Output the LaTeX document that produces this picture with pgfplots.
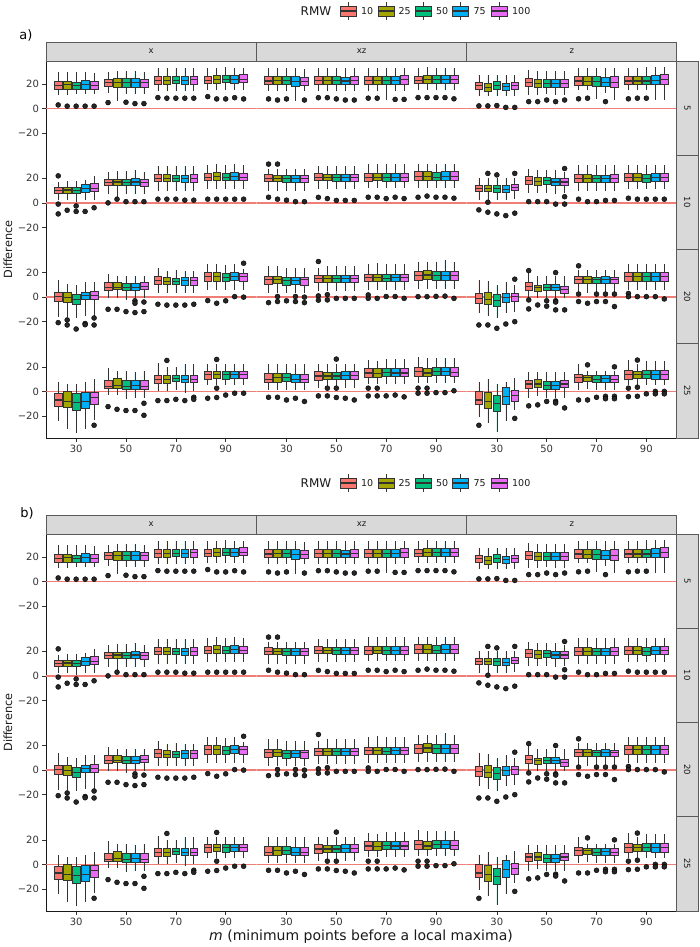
\documentclass[border=0pt]{standalone}
\usepackage{fontspec}
\setmainfont{DejaVu Sans}
\usepackage{pgfplots}
\pgfplotsset{compat=1.18}
\usepgfplotslibrary{statistics}
\definecolor{c1}{HTML}{F8766D}
\definecolor{c2}{HTML}{A3A500}
\definecolor{c3}{HTML}{00BF7D}
\definecolor{c4}{HTML}{00B0F6}
\definecolor{c5}{HTML}{E76BF3}
\definecolor{edge}{HTML}{333333}
\definecolor{zl}{HTML}{F07E76}
\definecolor{stripfill}{HTML}{D9D9D9}
\definecolor{stripedge}{HTML}{5A5A5A}
\pgfplotsset{
  boxst/.style={draw=edge, line width=0.6pt, boxplot/draw direction=y, boxplot/box extend=3.1, boxplot/whisker extend=0,
    boxplot/every median/.style={line width=1.1pt, draw=edge}},
  facet/.style={scale only axis, width=210.33pt, height=94.25pt, xmin=17.9, xmax=102.3, ymin=-38, ymax=38.8,
    axis x line*=bottom, axis y line*=left, axis line style={-, line width=0.6pt},
    x axis line style={draw=none}, y axis line style={draw=none}, xtick=\empty, ytick=\empty,
    tick align=outside, major tick length=3.5pt, tick style={black!80, line width=0.6pt},
    ticklabel style={font=\fontsize{10}{10}\selectfont, text=black!80}, anchor=north west},
  leftcol/.style={ytick={-20,0,20}, yticklabels={−20,0,20}, y axis line style={draw=black!90}},
  botrow/.style={xtick={30,50,70,90}, xticklabels={30,50,70,90}, x axis line style={draw=black!90}},
}
\newcommand{\bx}[7]{\addplot[boxst, fill=#2, boxplot prepared={draw position=#1, lower whisker=#3, lower quartile=#4, median=#5, upper quartile=#6, upper whisker=#7}] coordinates {};}
\newcommand{\grp}[6]{\bx{#1-7.2}{c1}#2\bx{#1-3.6}{c2}#3\bx{#1}{c3}#4\bx{#1+3.6}{c4}#5\bx{#1+7.2}{c5}#6}
\newcommand{\ol}[1]{\addplot[only marks, mark=*, mark size=2.5pt, mark options={draw=none, fill=black!85}] coordinates {#1};}
\newcommand{\zero}{\addplot[draw=zl, line width=1.5pt, mark=none] coordinates {(17.9,0) (102.3,0)};}
% ---------- data: column x / xz / z ; rows 5, 10, 20, 25 ----------
\newcommand{\FxA}{%
\grp{30}{{11}{16}{19}{22}{30}}{{11}{16}{19.5}{22.5}{30}}{{12}{16}{19}{21.5}{30}}{{12}{16}{19.5}{23}{30}}{{12}{16}{19}{22}{29}}
\grp{50}{{13}{18}{21}{24}{30}}{{6}{17}{21.5}{25}{31}}{{12}{17.5}{21}{24.5}{31}}{{12}{17.5}{21.5}{24.5}{31}}{{12}{17}{21}{24}{30}}
\grp{70}{{14}{20}{23}{26}{33}}{{14}{20}{23}{26}{33}}{{14}{20.5}{23}{26}{33.5}}{{14}{20}{23}{26}{33}}{{14}{20}{23.5}{26.5}{33}}
\grp{90}{{15}{21}{23}{26}{33}}{{15}{21}{24}{27.5}{33}}{{15}{21.5}{24}{27.5}{34}}{{15}{21}{24}{27}{33}}{{15}{21.5}{24}{28}{33}}
\ol{(22.8,3)(26.4,2)(30,2)(33.6,2)(37.2,2)(42.8,4.9)(50,5.2)(53.6,4.1)(57.2,4.1)(62.8,9)(66.4,8.5)(70,8.5)(73.6,8.5)(77.2,8.5)(82.8,9.8)(86.4,7.9)(90,7.9)(93.6,8.9)(97.2,7.9)}}
\newcommand{\FxzA}{%
\grp{30}{{14}{20}{22.5}{26}{33}}{{14}{20}{23}{26}{33}}{{14}{20}{23}{26}{33}}{{6}{18}{22}{26}{33}}{{14}{19}{22}{25.5}{32}}
\grp{50}{{14}{20}{23}{26}{33}}{{14}{20}{23}{26}{33}}{{14}{20}{23}{26}{33}}{{14}{20}{22.5}{25.5}{33}}{{14}{20}{23}{26}{33}}
\grp{70}{{14}{20}{23}{26.5}{33}}{{14}{20}{23}{26.5}{33}}{{7}{20}{23}{26.5}{33.5}}{{14}{20}{23}{26}{33}}{{14}{20}{23.5}{27}{33}}
\grp{90}{{15}{20.5}{23}{26.5}{33}}{{15}{20.5}{23.5}{27}{34}}{{15}{21}{24}{27}{33}}{{15}{21}{24}{27.5}{33}}{{15}{21}{24}{27.5}{33}}
\ol{(22.8,7.9)(26.4,7)(30,7.9)(37.2,7)(42.8,8.9)(46.4,8.9)(50,7.9)(53.6,7)(57.2,7)(62.8,8.5)(66.4,8.5)(73.6,7.5)(77.2,7.5)(82.8,9)(86.4,9)(90,9)(93.6,9)(97.2,8)}}
\newcommand{\FzA}{%
\grp{30}{{10}{15.5}{18.5}{21.5}{27}}{{10}{14.5}{17.5}{21}{27}}{{10}{16}{19}{22}{27}}{{10}{15}{18}{21}{27}}{{10}{15.5}{18.5}{21.5}{27}}
\grp{50}{{11}{18}{21}{24.5}{31.5}}{{11}{17.5}{20.5}{23.5}{31}}{{12}{17.5}{20.5}{23.5}{31}}{{11}{17.5}{20.5}{23.5}{31}}{{11}{17.5}{20.5}{23.5}{31}}
\grp{70}{{15}{19}{22.5}{26.5}{33}}{{15}{19}{22}{26}{33}}{{8}{18}{22}{26}{33.5}}{{13}{18}{21.5}{25.5}{33}}{{7}{17.5}{21.5}{26.5}{33}}
\grp{90}{{15}{19.5}{22.5}{26}{33.5}}{{15}{19.5}{22.5}{26}{33.5}}{{15}{19.5}{22.5}{26}{34}}{{7}{19.5}{23}{27}{34}}{{7}{20}{23.5}{28}{34}}
\ol{(22.8,2.2)(26.4,2.2)(30,2.5)(33.6,1)(37.2,1)(42.8,5.7)(46.4,5.7)(50,7)(53.6,5.7)(57.2,7)(62.8,8)(66.4,8.5)(73.6,5.7)(82.8,8)(86.4,8.5)(90,8.5)}}
\newcommand{\FxB}{%
\grp{30}{{2}{8}{10}{12.5}{17}}{{2}{8}{10.5}{13}{18}}{{1}{8}{10}{13}{18}}{{2}{9}{12}{15}{19}}{{2}{9.5}{12}{16}{22}}
\grp{50}{{7}{14}{16.5}{19}{25}}{{5}{14}{17}{19.5}{26}}{{7}{14}{16.5}{19}{26}}{{7}{14.5}{17}{20}{27}}{{7}{13.5}{16.5}{19.5}{25}}
\grp{70}{{10}{17.5}{20}{23}{30}}{{10}{17.5}{20}{23}{30}}{{10}{17.5}{20}{22.5}{30}}{{10}{17}{19.5}{22.5}{30}}{{10}{17}{20}{23}{30}}
\grp{90}{{11}{18}{21}{24}{31}}{{11}{18.5}{21.5}{25}{32}}{{11}{18}{21}{24}{31}}{{11}{18.5}{21.5}{25}{32}}{{11}{18}{21}{24.5}{31}}
\ol{(22.8,22)(22.8,-1)(22.8,-9)(26.4,-6)(30,-2.5)(30,-7)(33.6,-7)(37.2,-4)(42.8,0)(46.4,3)(50,1)(53.6,1)(57.2,1)(62.8,3)(66.4,3)(70,3)(73.6,2.2)(77.2,2.2)(82.8,3)(86.4,3)(90,3)(93.6,3)(97.2,3)}}
\newcommand{\FxzB}{%
\grp{30}{{10}{17.5}{20}{23}{28}}{{10}{17.5}{20}{22.5}{28}}{{10}{17}{19.5}{22.5}{28}}{{10}{17}{19.5}{22.5}{28}}{{10}{17}{20}{22.5}{28}}
\grp{50}{{11}{18}{21}{24}{30}}{{11}{18}{21}{23.5}{30}}{{11}{17.5}{20.5}{23.5}{30}}{{11}{17.5}{20.5}{23.5}{30}}{{11}{17.5}{20.5}{23.5}{30}}
\grp{70}{{12}{17.5}{20.5}{24.5}{32}}{{12}{18}{21}{24.5}{32}}{{12}{17.5}{20.5}{24}{32}}{{12}{17.5}{20.5}{24}{32}}{{12}{17.5}{21}{24.5}{32}}
\grp{90}{{12}{18}{21.5}{25.5}{32}}{{12}{18}{21.5}{25.5}{32}}{{12}{18}{21}{25}{32}}{{12}{18}{21.5}{25.5}{32}}{{12}{18}{21.5}{25.5}{32}}
\ol{(22.8,31.6)(26.4,31.6)(22.8,4.6)(26.4,3)(30,2.2)(33.6,1)(37.2,1)(42.8,4.5)(46.4,3.5)(50,2)(53.6,2)(57.2,2)(62.8,4.6)(66.4,4.6)(70,3.5)(73.6,4.6)(77.2,3.5)(82.8,4.6)(86.4,5.5)(90,4.6)(93.6,4.6)(97.2,3.8)}}
\newcommand{\FzB}{%
\grp{30}{{2}{9.5}{12}{14.5}{20}}{{2}{9.5}{12}{14.5}{20}}{{2}{9}{11.5}{14.5}{20}}{{2}{8.5}{11}{14}{20}}{{3}{10}{12.5}{15}{20}}
\grp{50}{{8}{15}{18}{21.5}{28}}{{8}{14.5}{17.5}{21}{27}}{{8}{15}{18}{21}{27}}{{7}{14}{17}{20}{27}}{{8}{14}{17}{20}{25}}
\grp{70}{{10}{17}{20}{23}{31}}{{10}{17}{20}{23}{31}}{{10}{16.5}{19.5}{22.5}{31}}{{10}{16.5}{19.5}{22.5}{31}}{{10}{17}{20}{23}{31}}
\grp{90}{{11}{17.5}{20.5}{24}{31}}{{11}{17.5}{20.5}{24}{31}}{{11}{17}{20}{23.5}{31}}{{11}{17.5}{20.5}{24}{31}}{{11}{17.5}{20.5}{24}{31}}
\ol{(26.4,24)(30,22.8)(37.2,24)(22.8,-5.7)(26.4,0.5)(26.4,-7.6)(30,-9)(33.6,-10.4)(37.2,-8.4)(57.2,28)(42.8,1)(46.4,1)(50,1)(53.6,-1)(57.2,5)(57.2,-1)(62.8,3)(66.4,1)(70,1)(73.6,2)(77.2,2)(82.8,3.8)(86.4,3)(90,3)(93.6,3)(97.2,3)}}
\newcommand{\FxC}{%
\grp{30}{{-16}{-3.7}{0.4}{4}{14}}{{-16}{-4.5}{0}{4}{11}}{{-17}{-6}{-2}{2}{9.5}}{{-15}{-2}{1}{4}{12}}{{-15}{-2}{1}{4.5}{12}}
\grp{50}{{-1}{5.9}{7.5}{11.8}{18.7}}{{-1}{6}{8}{11.8}{17}}{{-2}{5.5}{8}{11.5}{17}}{{-1}{5.5}{7.5}{11}{17}}{{-1}{6}{8.5}{12}{17}}
\grp{70}{{3}{10.5}{13.5}{16.8}{23.6}}{{3}{10.5}{13}{16}{21}}{{3}{10.5}{12.5}{15.5}{22}}{{3}{10}{13.5}{16.5}{21.5}}{{3}{10}{13.5}{16.5}{21.5}}
\grp{90}{{6}{12.7}{16.5}{20}{27}}{{6}{13}{16.5}{20.5}{27}}{{6}{12.5}{16}{19.5}{26}}{{6}{13.5}{17}{20}{27}}{{6}{13}{16.5}{19.5}{23}}
\ol{(22.8,-20.8)(26.4,-18.6)(26.4,-22.7)(30,-26)(33.6,-21.5)(33.6,-22.5)(37.2,-17)(37.2,-22.7)(42.8,-9.9)(46.4,-9.9)(50,-11.8)(53.6,-3)(53.6,-5)(53.6,-12.6)(57.2,-4)(57.2,-11.8)(62.8,-5.8)(66.4,-6.5)(70,-6.5)(73.6,-6.5)(77.2,-5.8)(97.2,27.6)(82.8,-2.8)(86.4,-5)(90,-3)(93.6,0.4)(97.2,0)}}
\newcommand{\FxzC}{%
\grp{30}{{3}{10.5}{14}{16.8}{25}}{{3}{11}{14}{17}{25}}{{3}{10}{13.5}{16}{24}}{{3}{10.5}{13.5}{16}{24}}{{3}{10}{14}{16.5}{24}}
\grp{50}{{5}{11.8}{15}{18}{24}}{{5}{12}{15}{18}{25}}{{5}{12}{15}{18}{25}}{{5}{12}{15}{18}{25}}{{5}{12}{15}{18}{25}}
\grp{70}{{6}{12.7}{16}{19}{27}}{{6}{12.7}{16}{19}{27.6}}{{6}{12.5}{15.5}{18.5}{27}}{{6}{12.7}{16}{19}{27}}{{6}{12.7}{16}{19}{27}}
\grp{90}{{7}{14}{17.5}{20.8}{29}}{{7}{14.5}{18}{21.5}{29}}{{7}{14}{17.5}{21}{29}}{{7}{14}{17.5}{21}{30}}{{7}{14}{17.5}{21}{29}}
\ol{(22.8,-4.5)(26.4,0.5)(26.4,-3.6)(30,-3)(33.6,0.5)(33.6,-3.6)(37.2,0)(37.2,-4.5)(42.8,29)(42.8,1)(42.8,-2.5)(46.4,2)(46.4,-2.3)(50,-1)(53.6,-1)(57.2,-1)(62.8,1.8)(62.8,-1)(66.4,-1)(70,0.5)(73.6,0.5)(77.2,-1)(82.8,0.4)(86.4,0.4)(90,0.6)(93.6,0.8)(97.2,-1)}}
\newcommand{\FzC}{%
\grp{30}{{-13}{-5}{-1}{3.2}{14}}{{-15}{-6}{-2}{4}{13}}{{-17}{-7.5}{-3}{2}{9.5}}{{-13}{-4}{0}{3}{12}}{{-12}{-3}{0.5}{3.5}{10}}
\grp{50}{{-1}{5.9}{9}{11.8}{19.5}}{{-1}{5}{7.5}{10}{17}}{{-1}{5.5}{8}{10.5}{17}}{{-1}{5.5}{8}{10.5}{17}}{{-1}{3.5}{6}{9}{17}}
\grp{70}{{3}{11.3}{14}{16.8}{22}}{{3}{11.5}{14.5}{17}{22}}{{3}{11}{14}{16.5}{22}}{{3}{11}{14.5}{17}{22}}{{3}{11}{14}{16.5}{22}}
\grp{90}{{6}{13.2}{16.5}{20}{27}}{{6}{13.2}{16.5}{20}{27}}{{6}{13.2}{16.5}{20}{27}}{{6}{13.2}{16.5}{20}{27}}{{6}{13.2}{16.5}{20}{27}}
\ol{(37.2,14.6)(22.8,-22.7)(26.4,-22.7)(30,-25.4)(33.6,-21.9)(37.2,-20)(42.8,21.6)(53.6,20)(42.8,-2.3)(42.8,-9.6)(46.4,-6.4)(50,-3)(50,-7.4)(53.6,-3)(53.6,-4)(53.6,-10.4)(57.2,-10.4)(62.8,25.5)(62.8,2.5)(62.8,-3.6)(66.4,-5)(70,2.5)(70,-3.6)(73.6,2.5)(73.6,-3.6)(77.2,2.5)(77.2,-7.7)(82.8,3)(82.8,0.4)(86.4,0.4)(90,0.4)(93.6,0.4)(97.2,-1.5)}}
\newcommand{\FxD}{%
\grp{30}{{-23.8}{-11.8}{-7}{-1.5}{8}}{{-31}{-13}{-8}{0}{6}}{{-34}{-15.6}{-9}{-1.5}{6}}{{-31}{-13.5}{-8}{-1}{8}}{{-23}{-10.2}{-5}{-1}{10}}
\grp{50}{{-3}{2.6}{4}{9.4}{19}}{{-3}{2.6}{4.5}{10.8}{17}}{{-6}{2}{4}{9}{17}}{{-5}{2}{4.5}{9}{16}}{{-5}{2}{4}{9}{17}}
\grp{70}{{0}{6.7}{9.5}{13.5}{23}}{{0}{6.5}{10}{13.5}{20}}{{1}{8}{10.5}{13}{20}}{{-1}{7}{9.5}{13}{22}}{{0}{7}{10}{13.5}{22}}
\grp{90}{{5.3}{10.2}{13.5}{16.7}{22}}{{5.3}{11}{14}{16.5}{22}}{{5}{10}{14}{16}{22}}{{5}{11}{14}{16.5}{22}}{{5}{11}{14}{16.5}{22}}
\ol{(37.2,-27.6)(42.8,-12.4)(46.4,-14.6)(50,-15.6)(53.6,-15.6)(57.2,-9.7)(57.2,-19.5)(66.4,25.2)(62.8,-7.5)(66.4,-7.5)(70,-6.5)(73.6,-7.5)(77.2,-4.8)(77.2,-6.5)(86.4,26)(86.4,2.6)(82.8,-5.6)(86.4,-5)(90,-3)(93.6,-1.5)(97.2,-1.5)}}
\newcommand{\FxzD}{%
\grp{30}{{1}{7.2}{10}{14.8}{22}}{{1}{7.5}{11}{15}{22}}{{1}{8}{11}{14.5}{22}}{{1}{7.5}{10}{14}{22}}{{1}{7}{10}{14}{22}}
\grp{50}{{3}{9.4}{12.5}{16}{22}}{{3}{9.5}{12.5}{15.5}{22}}{{3}{9.5}{12.5}{15.5}{22}}{{3}{9.5}{13}{16.5}{22}}{{3}{10}{13}{16.5}{22}}
\grp{70}{{6}{11.6}{15}{19}{25.7}}{{6}{11.6}{14.5}{18.5}{25}}{{6}{12}{15.5}{19}{26}}{{6}{12}{15}{19}{26}}{{6}{12}{15}{19}{26}}
\grp{90}{{7}{12}{16}{19.7}{28}}{{7}{12}{15}{18.5}{27}}{{7}{13}{16.5}{19.5}{27}}{{7}{13}{16}{19.5}{27}}{{7}{12.5}{15.5}{19.5}{27}}
\ol{(22.8,-4.8)(26.4,-4.8)(30,-7)(33.6,-5.6)(37.2,-8.2)(50,26.3)(42.8,-3.7)(46.4,2.6)(46.4,-3.7)(50,2.6)(50,-5)(53.6,-5.6)(57.2,-7)(62.8,2.6)(62.8,-3.7)(66.4,2.6)(66.4,-3.7)(70,-3.7)(73.6,-3)(77.2,-4.5)(82.8,2.6)(82.8,-1.5)(86.4,2.6)(86.4,-1.5)(90,-1)(93.6,-1)(97.2,0.5)}}
\newcommand{\FzD}{%
\grp{30}{{-20.5}{-10.2}{-7}{0}{8}}{{-26}{-13.5}{-8}{-1}{10}}{{-33}{-16.5}{-10}{-3}{6}}{{-24}{-10.2}{-4}{3.4}{8}}{{-15}{-8.3}{-3}{0.8}{10.7}}
\grp{50}{{-5}{2.6}{6}{9.4}{16}}{{-4}{3}{6}{9.5}{16}}{{-5}{2}{5}{8.5}{16}}{{-5}{2}{5}{8.5}{16}}{{-5}{3}{6}{9}{16}}
\grp{70}{{1}{7.2}{11}{14}{22}}{{2}{8}{11}{13.5}{17}}{{1}{7}{10}{13}{17}}{{1}{7.5}{10.5}{13.5}{17}}{{1}{7}{10}{13}{17}}
\grp{90}{{5}{10}{13.5}{17}{25.7}}{{5}{10.5}{13.5}{16.5}{22}}{{5}{11}{14}{17}{25}}{{5}{10}{13.5}{17}{25}}{{5}{10}{13.5}{17}{25}}
\ol{(22.8,-27.6)(37.2,-22)(42.8,-11.8)(46.4,-11)(50,-8.2)(53.6,-8)(53.6,-9.5)(57.2,-13.5)(66.4,21.6)(77.2,20)(62.8,-7)(66.4,-7)(70,-4.8)(73.6,-4)(73.6,-6)(77.2,-4)(77.2,-6)(86.4,25.5)(82.8,2.6)(82.8,-4.3)(86.4,3.4)(86.4,-4)(90,-2)(93.6,0)(93.6,-2)(97.2,0)(97.2,-2)}}
% ---------- panel ----------
\tikzset{strip/.style={fill=stripfill, draw=stripedge, line width=0.7pt},
  stript/.style={font=\fontsize{8.5}{8.5}\selectfont, text=black!90, inner sep=0pt}}
\newcommand{\panel}[1]{%
\pgfmathsetmacro\ya{-#1}\pgfmathsetmacro\yb{-#1-94.25}\pgfmathsetmacro\yc{-#1-188.5}
\pgfmathsetmacro\yd{-#1-282.75}\pgfmathsetmacro\ye{-#1-377}\pgfmathsetmacro\ys{-#1+19}
\begin{axis}[facet,leftcol,at={(46pt,\ya pt)}]\zero\FxA\end{axis}
\begin{axis}[facet,at={(256.33pt,\ya pt)}]\zero\FxzA\end{axis}
\begin{axis}[facet,at={(466.67pt,\ya pt)}]\zero\FzA\end{axis}
\begin{axis}[facet,leftcol,at={(46pt,\yb pt)}]\zero\FxB\end{axis}
\begin{axis}[facet,at={(256.33pt,\yb pt)}]\zero\FxzB\end{axis}
\begin{axis}[facet,at={(466.67pt,\yb pt)}]\zero\FzB\end{axis}
\begin{axis}[facet,leftcol,at={(46pt,\yc pt)}]\zero\FxC\end{axis}
\begin{axis}[facet,at={(256.33pt,\yc pt)}]\zero\FxzC\end{axis}
\begin{axis}[facet,at={(466.67pt,\yc pt)}]\zero\FzC\end{axis}
\begin{axis}[facet,leftcol,botrow,at={(46pt,\yd pt)}]\zero\FxD\end{axis}
\begin{axis}[facet,botrow,at={(256.33pt,\yd pt)}]\zero\FxzD\end{axis}
\begin{axis}[facet,botrow,at={(466.67pt,\yd pt)}]\zero\FzD\end{axis}
\draw[strip] (46pt,\ys pt) rectangle (256.33pt,\ya pt);
\draw[strip] (256.33pt,\ys pt) rectangle (466.67pt,\ya pt);
\draw[strip] (466.67pt,\ys pt) rectangle (676.67pt,\ya pt);
\node[stript] at (151.2pt,{(\ya+9.5)*1pt}) {x};
\node[stript] at (361.5pt,{(\ya+9.5)*1pt}) {xz};
\node[stript] at (571.8pt,{(\ya+9.5)*1pt}) {z};
\draw[strip] (676.67pt,\ya pt) rectangle (698pt,\yb pt);
\draw[strip] (676.67pt,\yb pt) rectangle (698pt,\yc pt);
\draw[strip] (676.67pt,\yc pt) rectangle (698pt,\yd pt);
\draw[strip] (676.67pt,\yd pt) rectangle (698pt,\ye pt);
\node[stript,rotate=-90] at (687.3pt,{(\ya-47.1)*1pt}) {5};
\node[stript,rotate=-90] at (687.3pt,{(\yb-47.1)*1pt}) {10};
\node[stript,rotate=-90] at (687.3pt,{(\yc-47.1)*1pt}) {20};
\node[stript,rotate=-90] at (687.3pt,{(\yd-47.1)*1pt}) {25};
\node[rotate=90, font=\fontsize{11.3}{11.3}\selectfont, text=black!90] at (8pt,{(\ya-188.5)*1pt}) {Difference};
}
\newcommand{\key}[3]{%
\draw[edge, line width=0.6pt] ({(#1+8)*1pt},{(#2+9)*1pt}) -- ({(#1+8)*1pt},{(#2-9)*1pt});
\draw[fill=#3, draw=edge, line width=0.6pt] (#1pt,{(#2-5)*1pt}) rectangle ({(#1+16)*1pt},{(#2+5)*1pt});
\draw[edge, line width=1.1pt] (#1pt,#2pt) -- ({(#1+16)*1pt},#2pt);}
\newcommand{\rmwleg}[1]{%
\node[anchor=west, inner sep=0pt, font=\fontsize{12}{12}\selectfont, text=black!90] at (300.5pt,#1pt) {RMW};
\key{340}{#1}{c1}\key{378}{#1}{c2}\key{415.7}{#1}{c3}\key{452.7}{#1}{c4}\key{491}{#1}{c5}
\node[anchor=west, inner sep=0pt, font=\fontsize{9.5}{9.5}\selectfont, text=black!90] at (361pt,#1pt) {10};
\node[anchor=west, inner sep=0pt, font=\fontsize{9.5}{9.5}\selectfont, text=black!90] at (398.5pt,#1pt) {25};
\node[anchor=west, inner sep=0pt, font=\fontsize{9.5}{9.5}\selectfont, text=black!90] at (436pt,#1pt) {50};
\node[anchor=west, inner sep=0pt, font=\fontsize{9.5}{9.5}\selectfont, text=black!90] at (473.5pt,#1pt) {75};
\node[anchor=west, inner sep=0pt, font=\fontsize{9.5}{9.5}\selectfont, text=black!90] at (512pt,#1pt) {100};}
\begin{document}
\begin{tikzpicture}
\useasboundingbox (0pt,0pt) rectangle (700pt,-947pt);
\rmwleg{-11}
\node[font=\fontsize{13}{13}\selectfont] at (26pt,-35.5pt) {a)};
\panel{61}
\rmwleg{-483}
\node[font=\fontsize{13}{13}\selectfont] at (27pt,-513pt) {b)};
\panel{534}
\node[font=\fontsize{14}{14}\selectfont, text=black!90] at (361pt,-937pt) {\textit{m} (minimum points before a local maxima)};
\end{tikzpicture}
\end{document}
